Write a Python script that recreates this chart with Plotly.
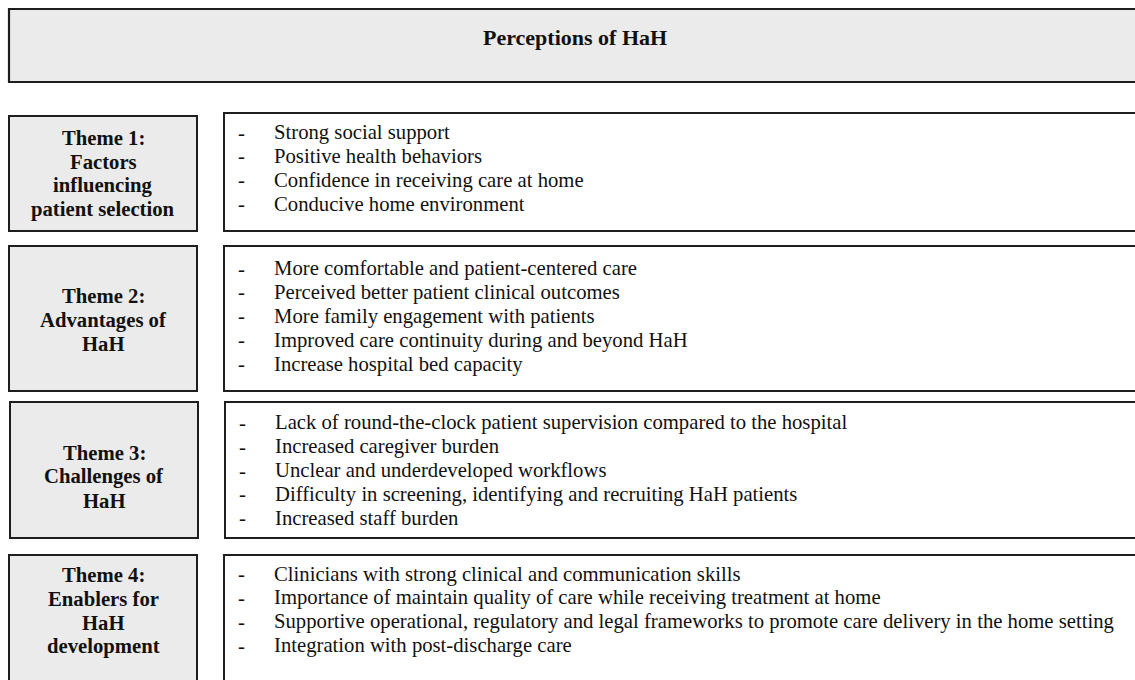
import plotly.graph_objects as go

title_text = "Perceptions of HaH"

theme_labels = [
    ["Theme 1:", "Factors", "influencing", "patient selection"],
    ["Theme 2:", "Advantages of", "HaH"],
    ["Theme 3:", "Challenges of", "HaH"],
    ["Theme 4:", "Enablers for", "HaH", "development"],
]

theme_items = [
    ["Strong social support",
     "Positive health behaviors",
     "Confidence in receiving care at home",
     "Conducive home environment"],
    ["More comfortable and patient-centered care",
     "Perceived better patient clinical outcomes",
     "More family engagement with patients",
     "Improved care continuity during and beyond HaH",
     "Increase hospital bed capacity"],
    ["Lack of round-the-clock patient supervision compared to the hospital",
     "Increased caregiver burden",
     "Unclear and underdeveloped workflows",
     "Difficulty in screening, identifying and recruiting HaH patients",
     "Increased staff burden"],
    ["Clinicians with strong clinical and communication skills",
     "Importance of maintain quality of care while receiving treatment at home",
     "Supportive operational, regulatory and legal frameworks to promote care delivery in the home setting",
     "Integration with post-discharge care"],
]

# ---- layout geometry (pixels) ----
W, H = 1135, 680
left_x = [(9, 197), (9, 197), (10, 198), (9, 197)]
left_y = [(116, 231), (246, 391), (402, 538), (555, 720)]
right_x0 = [224, 224, 225, 224]
right_y = [(113, 231), (246, 391), (402, 538), (555, 720)]
label_center_y = [173.5, 320, 476.5, 610.5]
item_first_y = [132.5, 268.5, 422.7, 574]
line_step = 23.9
label_step = 24.0

FONT = "Liberation Serif, Times New Roman, serif"
GREY = "#ebebeb"
EDGE = "#1e1e1e"
TXT = "#111111"
FS = 20.7

fig = go.Figure()
fig.add_trace(go.Scatter(x=[0, W], y=[0, H], mode="markers",
                         marker=dict(opacity=0), hoverinfo="skip", showlegend=False))

shapes = []
annotations = []

# top box
shapes.append(dict(type="rect", x0=9, x1=W + 50, y0=9, y1=82,
                   fillcolor=GREY, line=dict(color=EDGE, width=2.2), layer="below"))
annotations.append(dict(x=574.5, y=37.5, text="<b>" + title_text + "</b>",
                        showarrow=False, xanchor="center", yanchor="middle",
                        font=dict(family=FONT, size=22, color=TXT)))

for i, (labels, items) in enumerate(zip(theme_labels, theme_items)):
    lx0, lx1 = left_x[i]
    ly0, ly1 = left_y[i]
    shapes.append(dict(type="rect", x0=lx0, x1=lx1, y0=ly0, y1=ly1,
                       fillcolor=GREY, line=dict(color=EDGE, width=2), layer="below"))
    ry0, ry1 = right_y[i]
    shapes.append(dict(type="rect", x0=right_x0[i], x1=W + 50, y0=ry0, y1=ry1,
                       fillcolor="white", line=dict(color=EDGE, width=2), layer="below"))
    n = len(labels)
    cx = (lx0 + lx1) / 2
    for j, lab in enumerate(labels):
        yy = label_center_y[i] + (j - (n - 1) / 2) * label_step
        annotations.append(dict(x=cx, y=yy, text="<b>" + lab + "</b>",
                                showarrow=False, xanchor="center", yanchor="middle",
                                font=dict(family=FONT, size=FS, color=TXT)))
    for j, it in enumerate(items):
        yy = item_first_y[i] + j * line_step
        annotations.append(dict(x=right_x0[i] + 17.5, y=yy, text="-",
                                showarrow=False, xanchor="center", yanchor="middle",
                                font=dict(family=FONT, size=FS, color=TXT)))
        annotations.append(dict(x=right_x0[i] + 48, y=yy, text=it,
                                showarrow=False, xanchor="left", yanchor="middle",
                                font=dict(family=FONT, size=FS, color=TXT)))

fig.update_layout(
    width=W, height=H,
    margin=dict(l=0, r=0, t=0, b=0),
    paper_bgcolor="white", plot_bgcolor="white",
    xaxis=dict(range=[0, W], visible=False, fixedrange=True),
    yaxis=dict(range=[H, 0], visible=False, fixedrange=True),
    shapes=shapes, annotations=annotations,
    showlegend=False,
)

fig.write_html("out.html", config={"displayModeBar": False},
               post_script="document.body.style.margin='0';document.body.style.overflow='hidden';")
